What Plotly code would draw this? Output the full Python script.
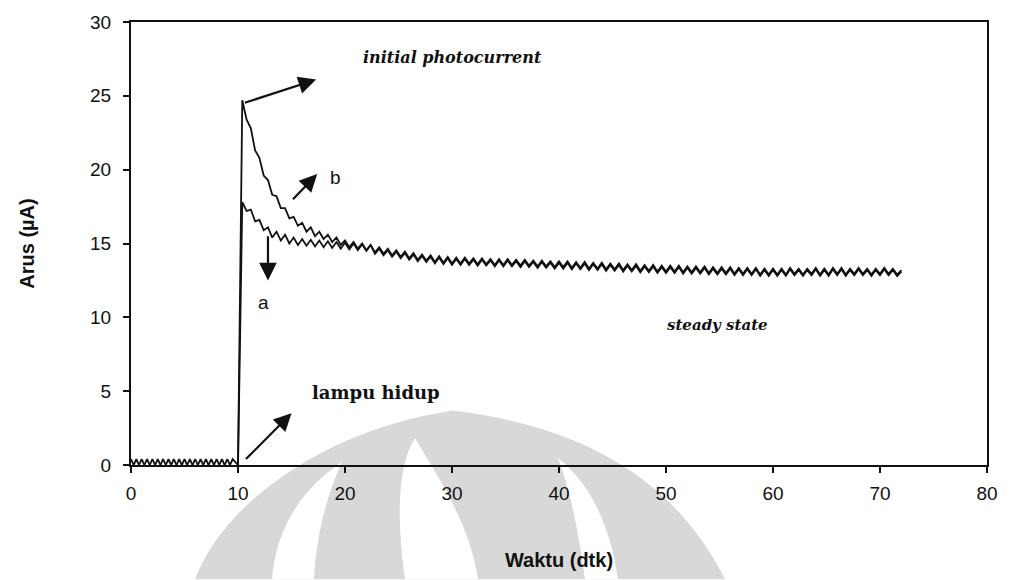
import plotly.graph_objects as go

# ---------------- data ----------------
t_pre = [0.5 * k for k in range(21)]            # 0 .. 10 s
a_pre = [0.4, -0.4, 0.4, -0.4, 0.4, -0.4, 0.4, -0.4, 0.4, -0.4,
         0.4, -0.4, 0.4, -0.4, 0.4, -0.4, 0.4, -0.4, 0.4, -0.4, 0.0]
b_pre = [-0.4, 0.4, -0.4, 0.4, -0.4, 0.4, -0.4, 0.4, -0.4, 0.4,
         -0.4, 0.4, -0.4, 0.4, -0.4, 0.4, -0.4, 0.4, -0.4, 0.4, 0.0]

t_post = [round(10.4 + 0.4 * k, 1) for k in range(155)]   # 10.4 .. 72.0 s

a_head = [17.8, 17.2, 17.3, 16.5, 16.6, 15.9, 16.1, 15.4, 15.8, 15.2,
          15.6, 15.0, 15.4, 14.9, 15.3, 14.85, 15.25, 14.8, 15.2, 14.75,
          15.15, 14.7, 15.1, 14.65, 15.05, 14.6, 15.0, 14.55, 14.95, 14.5, 14.9]
a_tail = [14.3, 14.65, 14.2, 14.55, 14.1, 14.45, 14.0, 14.35, 13.9, 14.25,
          13.8, 14.15, 13.75, 14.1, 13.65, 14.05, 13.6, 14.0, 13.55,
          13.95, 13.55, 13.95, 13.55, 13.9, 13.5, 13.9, 13.5, 13.85, 13.45,
          13.85, 13.45, 13.85, 13.45, 13.8, 13.4, 13.8, 13.4, 13.75, 13.35,
          13.75, 13.35, 13.7, 13.3, 13.7,
          13.3, 13.7, 13.25, 13.65, 13.25, 13.65, 13.2, 13.6, 13.2, 13.6,
          13.15, 13.55, 13.15, 13.55, 13.1, 13.5, 13.1, 13.5, 13.05, 13.45,
          13.05, 13.45, 13.0, 13.4, 13.0,
          13.4, 13.0, 13.4, 12.95, 13.35, 12.95, 13.35, 12.95, 13.35, 12.9,
          13.3, 12.9, 13.3, 12.9, 13.3, 12.85, 13.25, 12.85, 13.25, 12.85,
          13.25, 12.8, 13.2, 12.8, 13.2,
          12.8, 13.2, 12.8, 13.25, 12.85, 13.2, 12.8, 13.2, 12.85, 13.25,
          12.8, 13.2, 12.8, 13.25, 12.85, 13.25, 12.8, 13.2, 12.85, 13.25,
          12.85, 13.2, 12.8, 13.2, 12.85, 13.25, 12.85, 13.2, 12.8, 13.1]

b_head = [24.7, 23.4, 22.8, 21.3, 20.8, 19.6, 19.3, 18.3, 18.2, 17.4,
          17.4, 16.7, 16.8, 16.2, 16.4, 15.8, 16.1, 15.5, 15.8, 15.3,
          15.6, 15.1, 15.4, 14.9, 15.2, 14.75, 15.1, 14.65, 15.0, 14.55, 14.9]
b_tail = [14.4, 14.75, 14.3, 14.65, 14.2, 14.55, 14.1, 14.45, 14.0, 14.35,
          13.9, 14.25, 13.85, 14.2, 13.75, 14.15, 13.7, 14.1, 13.65,
          14.05, 13.65, 14.05, 13.65, 14.0, 13.6, 14.0, 13.6, 13.95, 13.55,
          13.95, 13.55, 13.95, 13.55, 13.9, 13.5, 13.9, 13.5, 13.85, 13.45,
          13.85, 13.45, 13.8, 13.4, 13.8,
          13.4, 13.8, 13.35, 13.75, 13.35, 13.75, 13.3, 13.7, 13.3, 13.7,
          13.25, 13.65, 13.25, 13.65, 13.2, 13.6, 13.2, 13.6, 13.15, 13.55,
          13.15, 13.55, 13.1, 13.5, 13.1,
          13.5, 13.1, 13.5, 13.05, 13.45, 13.05, 13.45, 13.05, 13.45, 13.0,
          13.4, 13.0, 13.4, 13.0, 13.4, 12.95, 13.35, 12.95, 13.35, 12.95,
          13.35, 12.9, 13.3, 12.9, 13.3,
          12.9, 13.3, 12.9, 13.35, 12.95, 13.3, 12.9, 13.3, 12.95, 13.35,
          12.9, 13.3, 12.9, 13.35, 12.95, 13.35, 12.9, 13.3, 12.95, 13.35,
          12.95, 13.3, 12.9, 13.3, 12.95, 13.35, 12.95, 13.3, 12.9, 13.2]

x_ticks = [0, 10, 20, 30, 40, 50, 60, 70, 80]
y_ticks = [0, 5, 10, 15, 20, 25, 30]

t_a = t_pre + t_post
y_a = a_pre + a_head + a_tail
t_b = t_pre + t_post
y_b = b_pre + b_head + b_tail

# ---------------- figure ----------------
W, H = 1012, 580
ML, MR, MT, MB = 131, 25, 19, 115
PW, PH = W - ML - MR, H - MT - MB


def px(x):
    return (x - ML) / PW


def py(y):
    return (H - MB - y) / PH


def P(x, y):
    return f"{px(x):.4f},{py(y):.4f}"


fig = go.Figure()
fig.add_trace(go.Scatter(x=t_a, y=y_a, mode="lines", name="a",
                         line=dict(color="#111111", width=1.8)))
fig.add_trace(go.Scatter(x=t_b, y=y_b, mode="lines", name="b",
                         line=dict(color="#111111", width=1.8)))

# watermark (light grey logo) behind the plot
GREY = "#d8d8d8"
shapes = [
    dict(type="path", xref="paper", yref="paper", layer="below",
         path=f"M {P(195,580)} C {P(225,500)} {P(330,428)} {P(453,410)} "
              f"C {P(570,425)} {P(670,470)} {P(725,580)} Z",
         fillcolor=GREY, line=dict(width=0)),
    dict(type="path", xref="paper", yref="paper", layer="below",
         path=f"M {P(272,580)} C {P(276,530)} {P(300,490)} {P(342,462)} "
              f"C {P(325,500)} {P(316,540)} {P(314,580)} Z",
         fillcolor="white", line=dict(width=0)),
    dict(type="path", xref="paper", yref="paper", layer="below",
         path=f"M {P(405,580)} C {P(395,510)} {P(400,460)} {P(415,438)} "
              f"C {P(440,480)} {P(470,525)} {P(478,580)} Z",
         fillcolor="white", line=dict(width=0)),
    dict(type="path", xref="paper", yref="paper", layer="below",
         path=f"M {P(585,580)} C {P(578,530)} {P(570,490)} {P(558,458)} "
              f"C {P(598,490)} {P(612,540)} {P(618,580)} Z",
         fillcolor="white", line=dict(width=0)),
]

ann_font_it = dict(family="DejaVu Serif", size=16, color="#111111", style="italic", weight="bold")
ann_font_it2 = dict(family="DejaVu Serif", size=15, color="#111111", style="italic", weight="bold")
ann_font = dict(family="DejaVu Serif", size=18, color="#111111", weight="bold")
sans = dict(family="Liberation Sans", size=19, color="#111111")

AR = dict(showarrow=True, arrowhead=2, arrowsize=1.6, arrowwidth=2.2,
          arrowcolor="#111111", text="", xref="x", yref="y", axref="x", ayref="y")

annotations = [
    dict(x=17.3, y=26.1, ax=10.5, ay=24.5, **AR),
    dict(x=17.4, y=19.7, ax=15.0, ay=17.9, **AR),
    dict(x=12.8, y=12.5, ax=12.8, ay=15.6, **AR),
    dict(x=15.0, y=3.5, ax=10.6, ay=0.3, **AR),
    dict(x=30.0, y=27.6, xref="x", yref="y", text="initial photocurrent",
         showarrow=False, font=ann_font_it),
    dict(x=19.1, y=19.5, xref="x", yref="y", text="b", showarrow=False, font=sans),
    dict(x=12.4, y=11.0, xref="x", yref="y", text="a", showarrow=False, font=sans),
    dict(x=54.8, y=9.5, xref="x", yref="y", text="steady state",
         showarrow=False, font=ann_font_it2),
    dict(x=22.9, y=4.9, xref="x", yref="y", text="lampu hidup",
         showarrow=False, font=ann_font),
]

fig.update_layout(
    width=W, height=H,
    margin=dict(l=ML, r=MR, t=MT, b=MB),
    paper_bgcolor="white", plot_bgcolor="rgba(0,0,0,0)",
    showlegend=False,
    shapes=shapes,
    annotations=annotations,
    font=sans,
)
fig.update_xaxes(range=[0, 80], tickvals=x_ticks, ticks="outside", ticklen=6,
                 tickwidth=1.5, tickcolor="#111111", showline=True, mirror=True,
                 linecolor="#111111", linewidth=2, showgrid=False, zeroline=False,
                 tickfont=sans, ticklabelstandoff=4,
                 title=dict(text="<b>Waktu (dtk)</b>",
                            font=dict(family="Liberation Sans", size=20, color="#111111"),
                            standoff=50))
fig.update_yaxes(range=[0, 30], tickvals=y_ticks, ticks="outside", ticklen=6,
                 tickwidth=1.5, tickcolor="#111111", showline=True, mirror=True,
                 linecolor="#111111", linewidth=2, showgrid=False, zeroline=False,
                 tickfont=sans, ticklabelstandoff=8,
                 title=dict(text="<b>Arus (µA)</b>",
                            font=dict(family="Liberation Sans", size=20, color="#111111"),
                            standoff=50))

fig.write_html("out.html")
